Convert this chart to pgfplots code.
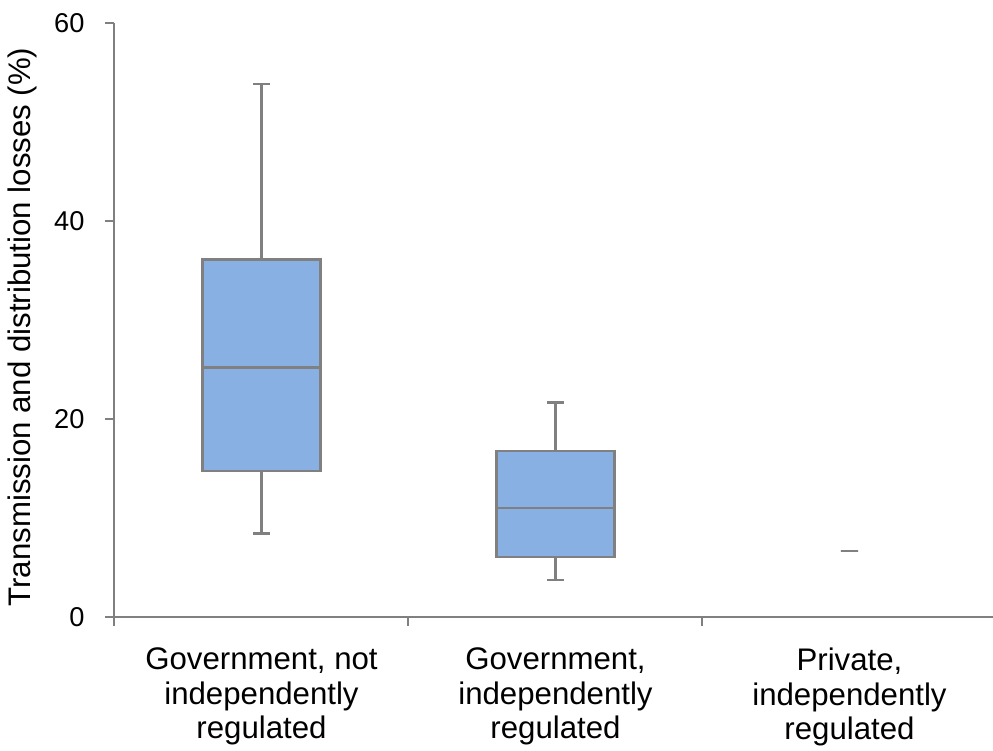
\documentclass[border=0pt]{standalone}
\usepackage{pgfplots}
\pgfplotsset{compat=1.18}
\usepgfplotslibrary{statistics}
\usepackage{fontspec}
\setmainfont{Liberation Sans}
\definecolor{boxfill}{RGB}{136,176,226}
\definecolor{linegray}{RGB}{128,128,128}
\begin{document}
\begin{tikzpicture}
\begin{axis}[
  at={(57.25pt,67pt)}, anchor=south west,
  scale only axis, width=441pt, height=297.15pt,
  xmin=-0.5, xmax=2.5, ymin=0, ymax=60,
  axis x line=bottom, axis y line=left,
  axis line style={-, linegray, line width=1pt},
  ytick={0,20,40,60},
  xtick={-0.5,0.5,1.5,2.5},
  x tick label as interval,
  xticklabels={{Government, not\\independently\\regulated},{Government,\\independently\\regulated},{Private,\\independently\\regulated}},
  tick align=outside,
  major tick length=4.5pt,
  tick style={linegray, line width=1pt},
  /pgf/number format/assume math mode=true,
  yticklabel style={font=\fontsize{13.6}{16}\selectfont, color=black, xshift=-7pt},
  xticklabel style={font=\fontsize{15.6}{17.2}\selectfont, align=center, color=black, yshift=-7.5pt},
  ylabel={Transmission and distribution losses (\%)},
  ylabel style={at={(axis description cs:-0.104,0.488)}, anchor=center, font=\fontsize{15.6}{18}\selectfont},
  boxplot/draw direction=y,
]
\addplot[draw=linegray, fill=boxfill, line width=1.25pt,
  boxplot prepared={draw position=0, lower whisker=8.44, lower quartile=14.75,
    median=25.2, upper quartile=36.1, upper whisker=53.8,
    box extend=0.4, whisker extend=0.058}] coordinates {};
\addplot[draw=linegray, fill=boxfill, line width=1.25pt,
  boxplot prepared={draw position=1, lower whisker=3.73, lower quartile=6.08,
    median=10.99, upper quartile=16.74, upper whisker=21.65,
    box extend=0.4, whisker extend=0.058}] coordinates {};
\addplot[draw=linegray, fill=boxfill, line width=1.25pt,
  boxplot prepared={draw position=2, lower whisker=6.65, lower quartile=6.65,
    median=6.65, upper quartile=6.65, upper whisker=6.65,
    box extend=0.058, whisker extend=0.058}] coordinates {};
\end{axis}
\pgfresetboundingbox
\path (0,0) rectangle (496.5pt,375.5pt);
\end{tikzpicture}
\end{document}
